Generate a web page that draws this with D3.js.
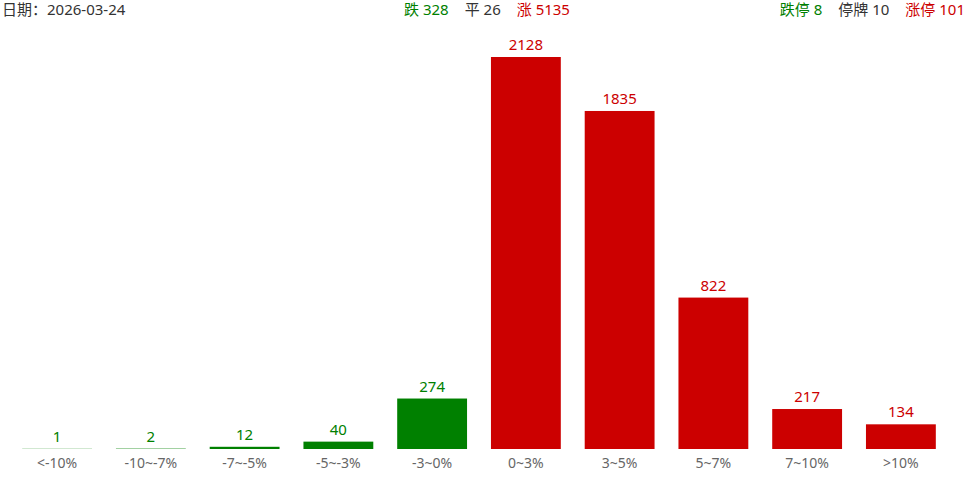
<!DOCTYPE html>
<html><head><meta charset="utf-8">
<script src="https://cdn.jsdelivr.net/npm/d3@7"></script>
<style>body{margin:0;background:#fff}text{font-family:"Noto Sans","Noto Sans CJK SC",sans-serif}</style>
</head><body>
<svg id="mainsvg" width="968" height="479"></svg>
<script>
const categories = ['<-10%', '-10~-7%', '-7~-5%', '-5~-3%', '-3~0%', '0~3%', '3~5%', '5~7%', '7~10%', '>10%'];
const counts = [1, 2, 12, 40, 274, 2128, 1835, 822, 217, 134];
const headerLeft = '日期：2026-03-24';
const headerMid = [['跌 328', 'down'], ['平 26', 'flat'], ['涨 5135', 'up']];
const headerRight = [['跌停 8', 'down'], ['停牌 10', 'flat'], ['涨停 101', 'up']];

const colors = { down: '#008000', flat: '#333', up: '#cc0000' };
const svg = d3.select('#mainsvg');
const baseY = 449;

const x = d3.scaleBand().domain(categories).range([10, 948]).paddingInner(0.255).paddingOuter(0.13);
const y = d3.scaleLinear().domain([0, 2128]).range([baseY, 57]);
const col = i => i < 5 ? colors.down : colors.up;

const g = svg.append('g');
g.selectAll('rect').data(counts).join('rect')
  .attr('x', (d, i) => x(categories[i]))
  .attr('width', x.bandwidth())
  .attr('y', d => y(d))
  .attr('height', d => baseY - y(d))
  .attr('fill', (d, i) => col(i));

g.selectAll('text.val').data(counts).join('text')
  .attr('class', 'val')
  .attr('x', (d, i) => x(categories[i]) + x.bandwidth() / 2)
  .attr('y', d => y(d) - 7)
  .attr('text-anchor', 'middle')
  .attr('font-size', 15)
  .attr('fill', (d, i) => col(i))
  .text(d => d);

const axis = d3.axisBottom(x).tickSize(0).tickPadding(9);
const ax = svg.append('g').attr('transform', `translate(0,${baseY})`).call(axis);
ax.select('.domain').remove();
ax.selectAll('text').attr('font-size', 14).attr('fill', '#666');

svg.append('text').attr('x', 2).attr('y', 15).attr('font-size', 15).attr('fill', '#333').text(headerLeft);

function row(items, xEnd, anchor) {
  const t = svg.append('text').attr('y', 15).attr('font-size', 15).attr('x', xEnd).attr('text-anchor', anchor);
  items.forEach(([s, k], i) => t.append('tspan').attr('fill', colors[k]).attr('dx', i ? 16 : 0).text(s));
}
row(headerMid, 487, 'middle');
row(headerRight, 965, 'end');
</script>
</body></html>
